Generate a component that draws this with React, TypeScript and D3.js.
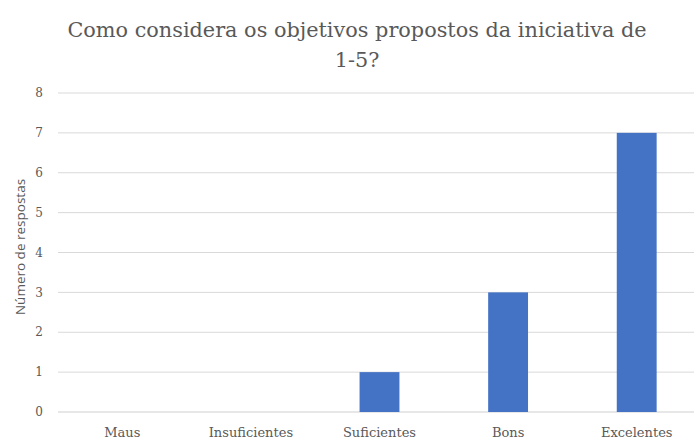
import * as d3 from 'd3';

const categories = ['Maus', 'Insuficientes', 'Suficientes', 'Bons', 'Excelentes'];
const respostas = [0, 0, 1, 3, 7];
const yTicks = [0, 1, 2, 3, 4, 5, 6, 7, 8];
const titleLines = ['Como considera os objetivos propostos da iniciativa de', '1-5?'];
const yTitle = 'Número de respostas';

const width = 694;
const height = 439;
const marginLeft = 58;
const plotRight = 701;
const plotTop = 93;
const plotBottom = 412;

const serif = 'DejaVu Serif';
const sans = "'Open Sans', 'Liberation Sans', sans-serif";

export default function App() {
  const x = d3
    .scaleBand<string>()
    .domain(categories)
    .range([marginLeft, plotRight])
    .paddingInner(0.69)
    .paddingOuter(0.345);

  const y = d3.scaleLinear().domain([0, 8]).range([plotBottom, plotTop]);

  return (
    <svg
      width={width}
      height={height}
      viewBox={`0 0 ${width} ${height}`}
      style={{ position: 'absolute', left: 0, top: 0, background: '#fff' }}
    >
      <rect width={width} height={height} fill='#fff' />
      {/* titulo */}
      <g fill='#595959' fontFamily={serif} fontSize={20.8} textAnchor='middle'>
        {titleLines.map((t, i) => (
          <text key={i} x={357} y={37 + i * 30}>
            {t}
          </text>
        ))}
      </g>

      {/* grelha + eixo y */}
      <g>
        {yTicks.map((t) => (
          <g key={t}>
            <line
              x1={marginLeft}
              x2={width}
              y1={y(t)}
              y2={y(t)}
              stroke={t === 0 ? '#cfcfcf' : '#d9d9d9'}
              strokeWidth={1}
            />
            <text
              x={43}
              y={y(t)}
              dy='0.35em'
              textAnchor='end'
              fill='#595959'
              fontFamily={serif}
              fontSize={12}
            >
              {t}
            </text>
          </g>
        ))}
      </g>

      <text
        transform={`translate(25, 247) rotate(-90)`}
        textAnchor='middle'
        fill='#595959'
        fontFamily={sans}
        fontSize={13.5}
      >
        {yTitle}
      </text>

      {/* barras */}
      <g fill='#4472C4'>
        {categories.map((c, i) => (
          <rect
            key={c}
            x={x(c)}
            y={y(respostas[i])}
            width={x.bandwidth()}
            height={y(0) - y(respostas[i])}
          />
        ))}
      </g>

      {/* eixo x */}
      <g fill='#595959' fontFamily={serif} fontSize={13} textAnchor='middle'>
        {categories.map((c) => (
          <text key={c} x={(x(c) ?? 0) + x.bandwidth() / 2} y={437}>
            {c}
          </text>
        ))}
      </g>
    </svg>
  );
}
